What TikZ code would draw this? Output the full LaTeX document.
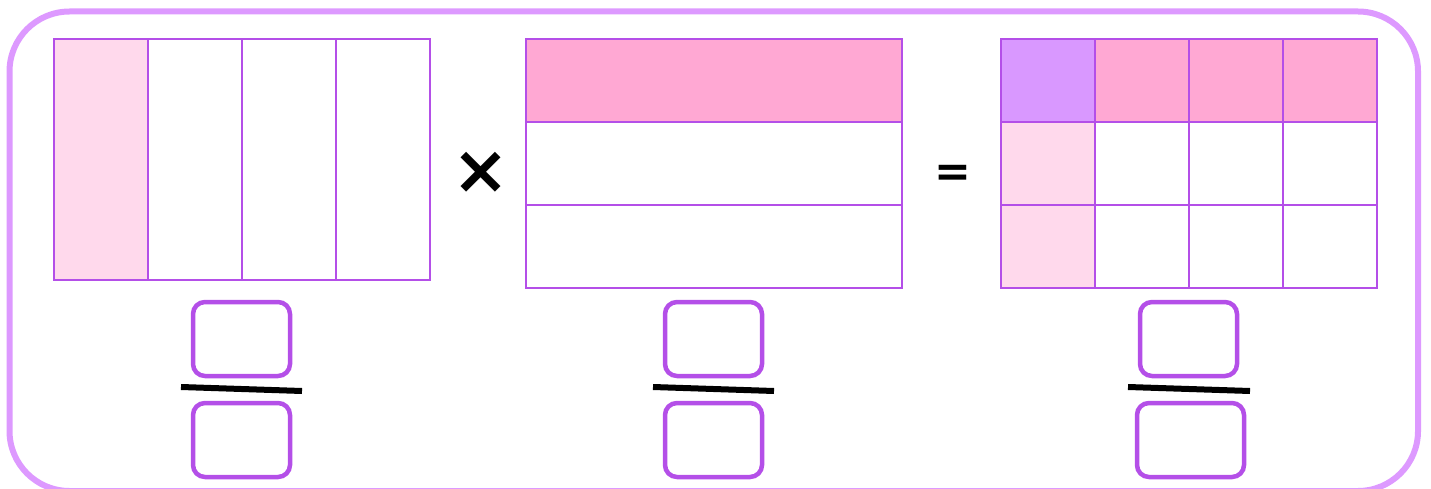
\documentclass[tikz,border=0pt]{standalone}
\usepackage{fontspec}
\setmainfont{DejaVu Sans}
\definecolor{gridline}{HTML}{B44FE8}
\definecolor{framecol}{HTML}{DD99FF}
\definecolor{lightpink}{HTML}{FFD9EC}
\definecolor{midpink}{HTML}{FFA8D3}
\definecolor{lavender}{HTML}{D998FF}
\tikzstyle{cell}=[draw=gridline, line width=2.2pt, inner sep=0, minimum width=94pt, minimum height=83pt]
\tikzstyle{column cell}=[cell, minimum height=241pt]
\tikzstyle{row cell}=[cell, minimum width=376pt]
\tikzstyle{answer box}=[draw=gridline, line width=4.5pt, rounded corners=12pt, minimum width=97pt, minimum height=74pt]
\tikzstyle{fraction bar}=[line width=6pt, black]
\tikzstyle{sign}=[font=\bfseries]

\begin{document}
\begin{tikzpicture}[x=1pt, y=-1pt]
      \useasboundingbox (0,0) rectangle (1431,489);
      \draw[framecol, line width=6pt, rounded corners=60pt] (9.5,11.5) rectangle (1418,491);

      % first factor: four columns
      \foreach \i in {1,...,4} {
        \node[column cell] (L\i) at (54+94*\i-47, 159.5) {};
      }
      \node[column cell, fill=lightpink] at (L1) {};

      % second factor: three rows
      \foreach \j in {1,...,3} {
        \node[row cell] (M\j) at (714, 39+83*\j-41.5) {};
      }
      \node[row cell, fill=midpink] at (M1) {};

      % product: four by three
      \foreach \i in {1,...,4} {
        \foreach \j in {1,...,3} {
          \node[cell] (R\i\j) at (1001+94*\i-47, 39+83*\j-41.5) {};
        }
      }
      \node[cell, fill=lavender] at (R11) {};
      \foreach \i in {2,...,4} {
        \node[cell, fill=midpink] at (R\i1) {};
      }
      \node[cell, fill=lightpink] at (R12) {};
      \node[cell, fill=lightpink] at (R13) {};

      \node[sign, font=\fontsize{68}{68}\selectfont\bfseries] (times) at (481,173) {×};
      \node[sign, font=\fontsize{44}{44}\selectfont\bfseries] (equals) at (953,176) {=};

      % fractions to fill in
      \node[answer box] (num_L) at (241.5,339) {};
      \node[answer box] (den_L) at (241.5,440) {};
      \coordinate (bar_L_a) at (181,387);
      \coordinate (bar_L_b) at (302,391);
      \draw[fraction bar] (bar_L_a) -- (bar_L_b);

      \node[answer box] (num_M) at (713.5,339) {};
      \node[answer box] (den_M) at (713.5,440) {};
      \coordinate (bar_M_a) at (653,387);
      \coordinate (bar_M_b) at (774,391);
      \draw[fraction bar] (bar_M_a) -- (bar_M_b);

      \node[answer box] (num_R) at (1188.5,339) {};
      \node[answer box, minimum width=107pt] (den_R) at (1190.5,440) {};
      \coordinate (bar_R_a) at (1128,387);
      \coordinate (bar_R_b) at (1250,391);
      \draw[fraction bar] (bar_R_a) -- (bar_R_b);
    \end{tikzpicture}
\end{document}
